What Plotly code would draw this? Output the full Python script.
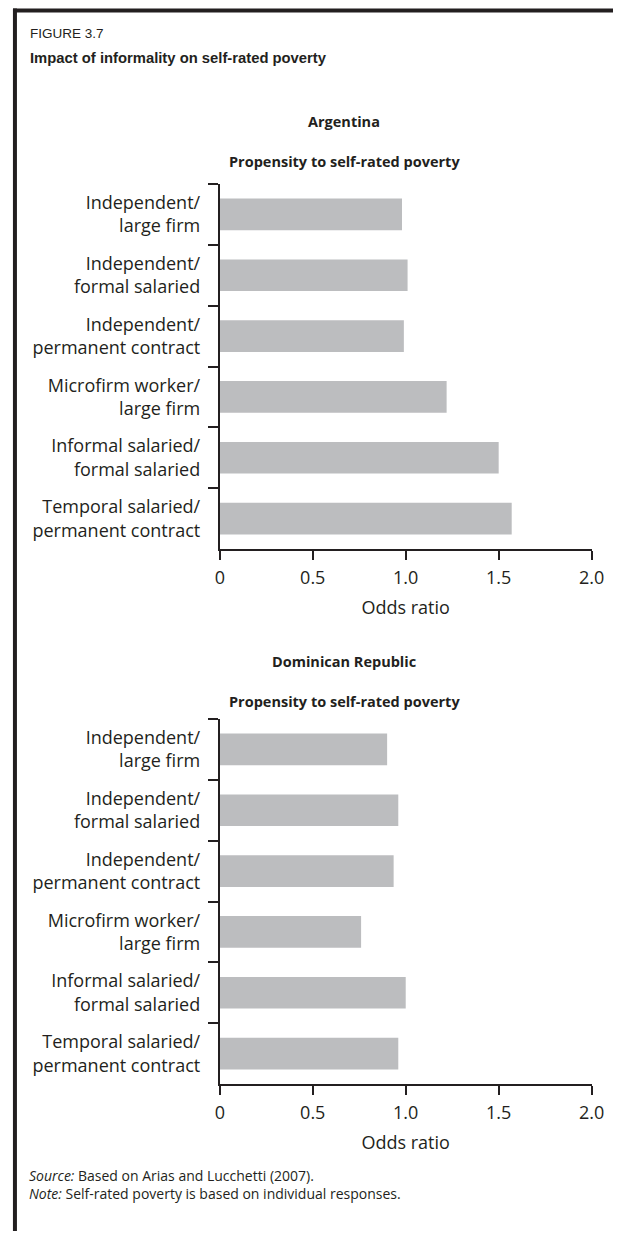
import plotly.graph_objects as go

# the page body adds an 8px margin on every side, so the figure is drawn
# 16px smaller and every pixel position below is in screenshot coordinates
OFF = 8
W, H = 634 - 2 * OFF, 1239 - 2 * OFF

# data
categories = [
    "Independent/<br>large firm",
    "Independent/<br>formal salaried",
    "Independent/<br>permanent contract",
    "Microfirm worker/<br>large firm",
    "Informal salaried/<br>formal salaried",
    "Temporal salaried/<br>permanent contract",
]
argentina = [0.98, 1.01, 0.99, 1.22, 1.50, 1.57]
dominican = [0.90, 0.96, 0.935, 0.76, 1.00, 0.96]
x_ticks = [0, 0.5, 1.0, 1.5, 2.0]
x_labels = ["0", "0.5", "1.0", "1.5", "2.0"]

INK = "#231f20"
BAR = "#bcbdbf"
FONT = "Open Sans, Noto Sans, sans-serif"
HEAD = "Liberation Sans, Arial, sans-serif"


def px(x):
    return (x - OFF) / W


def py(y):
    return 1 - (y - OFF) / H


fig = go.Figure()
fig.add_trace(go.Bar(x=argentina, y=categories, orientation="h",
                     marker=dict(color=BAR, line_width=0),
                     xaxis="x", yaxis="y", showlegend=False))
fig.add_trace(go.Bar(x=dominican, y=categories, orientation="h",
                     marker=dict(color=BAR, line_width=0),
                     xaxis="x2", yaxis="y2", showlegend=False))

xdom = [px(221), px(604)]
xax = dict(domain=xdom, range=[0, 2], tickvals=x_ticks, ticktext=x_labels,
           showline=True, linecolor=INK, linewidth=2, ticks="outside",
           ticklen=9, tickwidth=2, tickcolor=INK, showgrid=False,
           zeroline=False, ticklabelstandoff=2,
           tickfont=dict(family=FONT, size=18, color=INK),
           title=dict(text="Odds ratio", standoff=14,
                      font=dict(family=FONT, size=18, color=INK)))
yax = dict(type="category", categoryarray=categories, autorange="reversed",
           tickson="boundaries", showline=True, linecolor=INK, linewidth=2,
           ticks="outside", ticklen=10, tickwidth=2, tickcolor=INK,
           showgrid=False, zeroline=False, ticklabelstandoff=14,
           tickfont=dict(family=FONT, size=18, color=INK))

fig.update_layout(
    width=W, height=H, margin=dict(l=0, r=0, t=0, b=0),
    paper_bgcolor="white", plot_bgcolor="white", bargap=0.48,
    xaxis=dict(xax, anchor="y"),
    yaxis=dict(yax, domain=[py(549), py(184)], anchor="x"),
    xaxis2=dict(xax, anchor="y2"),
    yaxis2=dict(yax, domain=[py(1084), py(719)], anchor="x2"),
)

notes = [
    (23, 33, "FIGURE 3.7", HEAD, 13.5, "left"),
    (23, 58, "<b>Impact of informality on self-rated poverty</b>", HEAD, 14.8, "left"),
    (349, 122, "<b>Argentina</b>", FONT, 14.5, "center"),
    (349, 162, "<b>Propensity to self-rated poverty</b>", FONT, 14.5, "center"),
    (349, 662, "<b>Dominican Republic</b>", FONT, 14.5, "center"),
    (349, 701, "<b>Propensity to self-rated poverty</b>", FONT, 14.5, "center"),
    (22, 1175, "<i>Source:</i> Based on Arias and Lucchetti (2007).", FONT, 14, "left"),
    (22, 1193, "<i>Note:</i> Self-rated poverty is based on individual responses.", FONT, 14, "left"),
]
for x, y, txt, fam, size, anchor in notes:
    fig.add_annotation(x=px(x), y=py(y), xref="paper", yref="paper",
                       text=txt, showarrow=False, xanchor=anchor,
                       yanchor="middle",
                       font=dict(family=fam, size=size, color=INK))

# frame around the figure (top and left rules)
fig.add_shape(type="line", xref="paper", yref="paper",
              x0=px(8), x1=1, y0=py(10.5), y1=py(10.5),
              line=dict(color=INK, width=4))
fig.add_shape(type="line", xref="paper", yref="paper",
              x0=px(10), x1=px(10), y0=py(8.5), y1=0,
              line=dict(color=INK, width=4))

fig.write_html("out.html")
